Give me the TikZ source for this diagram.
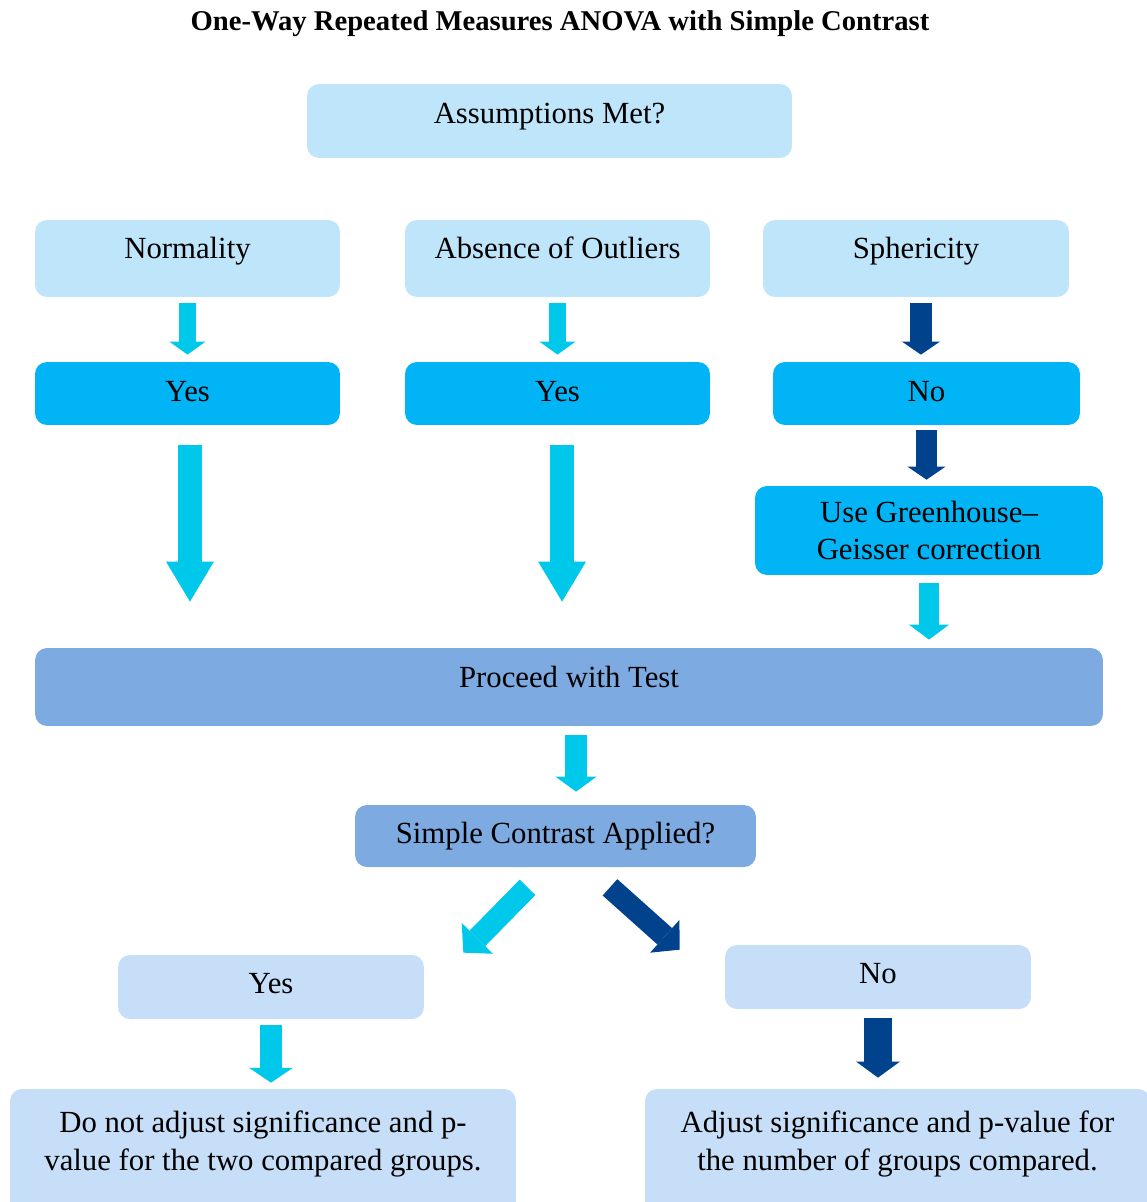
\documentclass[tikz,border=0pt]{standalone}
\usepackage{fontspec}
\setmainfont{Liberation Serif}
\usetikzlibrary{arrows.meta,calc}
\definecolor{paleblue}{HTML}{BFE5FB}
\definecolor{skyblue}{HTML}{00B4F5}
\definecolor{steelblue}{HTML}{7DAAE0}
\definecolor{softblue}{HTML}{C6DEF8}
\definecolor{arrcyan}{HTML}{00C8EA}
\definecolor{arrnavy}{HTML}{00428C}
\tikzset{
  box/.style={rounded corners=6.8pt, inner sep=0pt, align=center,
    font=\fontsize{17.5}{21.6}\selectfont},
  pale/.style={box, fill=paleblue},
  sky/.style={box, fill=skyblue},
  steel/.style={box, fill=steelblue},
  soft/.style={box, fill=softblue},
  lift/.style={text height=12pt, text depth=#1},
  arr/.style n args={3}{line width=#1, -{Triangle[length=#3, width=#2, line width=0pt]}}
}
\begin{document}
\begin{tikzpicture}[x=0.02cm, y=-0.02cm]
  \useasboundingbox (0,0) rectangle (1146,1202);
  \node (title) at (560,24) {\bfseries\fontsize{16.3}{19}\selectfont One-Way Repeated Measures ANOVA with Simple Contrast};

  % assumptions
  \node [pale, lift=9.6pt, minimum width=9.7cm, minimum height=1.48cm] (asm) at (549.5,121) {Assumptions Met?};
  \node [pale, lift=11.8pt, minimum width=6.1cm, minimum height=1.54cm] (norm) at (187.5,258.5) {Normality};
  \node [pale, lift=11.8pt, minimum width=6.1cm, minimum height=1.54cm] (outl) at (557.5,258.5) {Absence of Outliers};
  \node [pale, lift=11.8pt, minimum width=6.12cm, minimum height=1.54cm] (sph) at (916,258.5) {Sphericity};

  \node [sky, lift=3.2pt, minimum width=6.1cm, minimum height=1.26cm] (yes1) at (187.5,393.5) {Yes};
  \node [sky, lift=3.2pt, minimum width=6.1cm, minimum height=1.26cm] (yes2) at (557.5,393.5) {Yes};
  \node [sky, lift=3.2pt, minimum width=6.14cm, minimum height=1.26cm] (no1) at (926.5,393.5) {No};
  \node [sky, minimum width=6.96cm, minimum height=1.78cm] (gg) at (929,530.5) {Use Greenhouse--\\Geisser correction};

  % test and contrast
  \node [steel, lift=11.8pt, minimum width=21.36cm, minimum height=1.56cm] (proc) at (569,687) {Proceed with Test};
  \node [steel, lift=3.8pt, minimum width=8.02cm, minimum height=1.24cm] (simp) at (555.5,836) {Simple Contrast Applied?};

  \node [soft, lift=5pt, minimum width=6.12cm, minimum height=1.28cm] (yesb) at (271,987) {Yes};
  \node [soft, lift=5pt, minimum width=6.12cm, minimum height=1.28cm] (nob) at (878,977) {No};
  \node [soft, text height=30pt, text depth=15pt, minimum width=10.12cm, minimum height=2.72cm] (donot) at (263,1157)
    {Do not adjust significance and p-\\value for the two compared groups.};
  \node [soft, text height=30pt, text depth=15pt, minimum width=10.1cm, minimum height=2.72cm] (adj) at (897.5,1157)
    {Adjust significance and p-value for\\the number of groups compared.};

  % arrows
  \draw [arr={10.2pt}{20.5pt}{7.4pt}, arrcyan, shorten <=3.4pt, shorten >=4pt] (norm) -- (yes1);
  \draw [arr={10.2pt}{20.5pt}{7.4pt}, arrcyan, shorten <=3.4pt, shorten >=4pt] (outl) -- (yes2);
  \draw [arr={12.5pt}{21.6pt}{7.4pt}, arrnavy, shorten <=3.4pt, shorten >=4pt] ([xshift=2.8pt]sph.south) -- ([xshift=2.8pt]sph.south |- no1.north);
  \draw [arr={13.7pt}{27.3pt}{22.8pt}, arrcyan, shorten <=11.4pt, shorten >=26.2pt] ([xshift=1.4pt]yes1.south) -- ([xshift=1.4pt]yes1.south |- proc.north);
  \draw [arr={13.7pt}{27.3pt}{22.8pt}, arrcyan, shorten <=11.4pt, shorten >=26.2pt] ([xshift=2.6pt]yes2.south) -- ([xshift=2.6pt]yes2.south |- proc.north);
  \draw [arr={12.5pt}{21.6pt}{7.4pt}, arrnavy, shorten <=2.8pt, shorten >=3.4pt] (no1.south) -- (no1.south |- gg.north);
  \draw [arr={11.4pt}{22.8pt}{8.5pt}, arrcyan, shorten <=4.6pt, shorten >=4.6pt] (gg.south) -- (gg.south |- proc.north);
  \draw [arr={12.5pt}{23.3pt}{8.5pt}, arrcyan, shorten <=5.1pt, shorten >=7.4pt] ([xshift=4pt]proc.south) -- ([xshift=4pt]proc.south |- simp.north);
  \draw [arr={12.5pt}{25pt}{11.4pt}, arrcyan] ($(simp.south)+(-28,20)$) -- ($(yesb.north east)+(39,-2)$);
  \draw [arr={12.5pt}{25pt}{11.4pt}, arrnavy] ($(simp.south)+(54.5,20)$) -- ($(nob.north west)+(-45,5)$);
  \draw [arr={12.5pt}{25pt}{8.5pt}, arrcyan, shorten <=3.4pt, shorten >=3.4pt] (yesb.south) -- (yesb.south |- donot.north);
  \draw [arr={16pt}{25pt}{9.1pt}, arrnavy, shorten <=5.1pt, shorten >=6.3pt] (nob.south) -- (nob.south |- adj.north);
\end{tikzpicture}
\end{document}
